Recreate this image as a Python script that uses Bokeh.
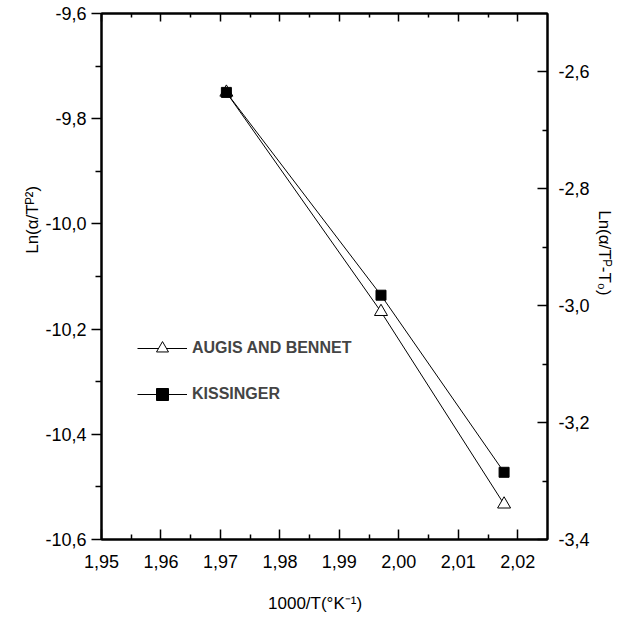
from bokeh.plotting import figure
from bokeh.models import (Range1d, LinearAxis, FixedTicker, CustomJSTickFormatter,
                          Legend, LegendItem)
from bokeh.embed import file_html
from bokeh.resources import INLINE

# ---- data ----
inv_T = [1.971, 1.997, 2.0177]
augis_bennet = [-9.75, -10.167, -10.533]      # left axis  Ln(a/Tp^2)
kissinger = [-2.635, -2.982, -3.285]          # right axis Ln(a/(Tp-T0))

x_ticks = [1.95, 1.96, 1.97, 1.98, 1.99, 2.00, 2.01, 2.02]
x_minor = [1.955, 1.965, 1.975, 1.985, 1.995, 2.005, 2.015]
yl_ticks = [-10.6, -10.4, -10.2, -10.0, -9.8, -9.6]
yl_minor = [-10.5, -10.3, -10.1, -9.9, -9.7]
yr_ticks = [-3.4, -3.2, -3.0, -2.8, -2.6]
yr_minor = [-3.3, -3.1, -2.9, -2.7]

x_title = "1000/T(°K⁻¹)"
yl_title = "Ln(α/Tᴾ²)"
yr_title = "Ln(α/Tᴾ-T₀)"

FONT = "Liberation Sans"
FS = "18px"
NB = "\u00a0"

p = figure(width=616, height=616, x_range=Range1d(1.95, 2.025),
           y_range=Range1d(-10.6, -9.6), output_backend="svg",
           toolbar_location=None, min_border_left=101, min_border_right=68,
           min_border_top=13, min_border_bottom=77)
p.extra_y_ranges = {"right": Range1d(-3.4, -2.5)}
p.xgrid.visible = False
p.ygrid.visible = False
p.outline_line_color = "black"
p.outline_line_width = 2


def style(ax, ticks, minor, digits, tin, tout, mtin, mtout, standoff):
    ax.ticker = FixedTicker(ticks=ticks, minor_ticks=minor)
    ax.formatter = CustomJSTickFormatter(
        code="return tick.toFixed(%d).replace('.', ',');" % digits)
    ax.axis_line_width = 2
    ax.axis_line_color = "black"
    ax.major_tick_line_width = 1.5
    ax.minor_tick_line_width = 1.5
    ax.major_tick_in = tin
    ax.major_tick_out = tout
    ax.minor_tick_in = mtin
    ax.minor_tick_out = mtout
    ax.major_label_text_font = FONT
    ax.major_label_text_font_size = FS
    ax.major_label_text_color = "black"
    ax.major_label_standoff = standoff
    ax.axis_label_text_font = FONT
    ax.axis_label_text_font_size = "17px"
    ax.axis_label_text_font_style = "normal"
    ax.axis_label_text_color = "black"


bottom = p.xaxis[0]
style(bottom, x_ticks, x_minor, 2, 10, 0, 5, 0, 15)
bottom.axis_label = x_title + NB * 4
bottom.axis_label_standoff = 23

left = p.yaxis[0]
style(left, yl_ticks, yl_minor, 1, 0, 10, 0, 6, 5)
left.axis_label = NB * 24 + yl_title
left.axis_label_standoff = 0

right = LinearAxis(y_range_name="right")
style(right, yr_ticks, yr_minor, 1, 10, 0, 5, 0, 11)
right.axis_label = yr_title + NB * 10
right.axis_label_standoff = 2
p.add_layout(right, "right")

top = LinearAxis()
style(top, x_ticks, x_minor, 2, 8, 0, 4, 0, 0)
top.formatter = CustomJSTickFormatter(code="return '';")
p.add_layout(top, "above")

l1 = p.line(inv_T, augis_bennet, line_color="black", line_width=1)
s1 = p.scatter(inv_T, augis_bennet, marker="triangle", size=13,
               fill_color="white", line_color="black", line_width=1)
l2 = p.line(inv_T, kissinger, line_color="black", line_width=1,
            y_range_name="right")
s2 = p.scatter(inv_T, kissinger, marker="square", size=10,
               fill_color="black", line_color="black", y_range_name="right")

legend = Legend(items=[LegendItem(label="AUGIS AND BENNET", renderers=[l1, s1]),
                       LegendItem(label="KISSINGER", renderers=[l2, s2])],
                location=(36, 130))
legend.border_line_color = None
legend.background_fill_alpha = 0
legend.label_text_font = FONT
legend.label_text_font_size = "16px"
legend.label_text_font_style = "bold"
legend.glyph_width = 50
legend.glyph_height = 30
legend.label_height = 20
legend.label_standoff = 5
legend.spacing = 16
legend.padding = 0
legend.margin = 0
p.add_layout(legend)

open("out.html", "w").write(file_html(p, INLINE))
